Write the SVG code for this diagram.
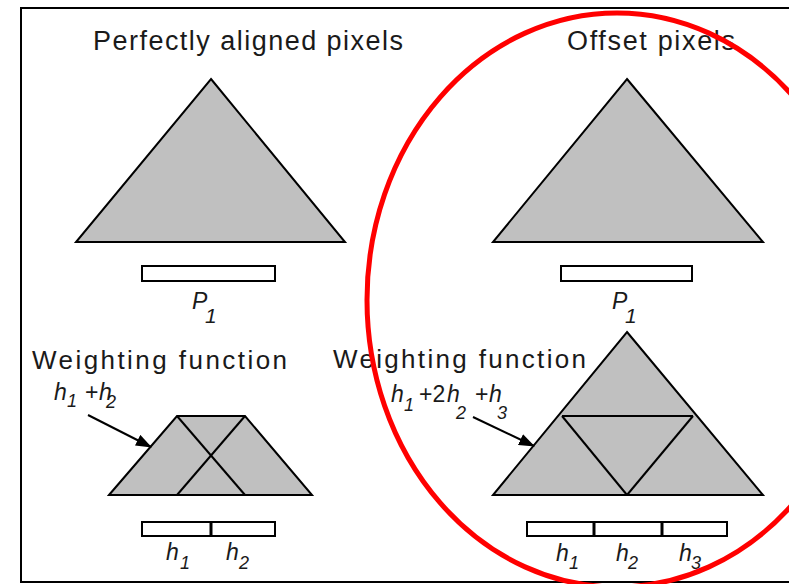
<svg xmlns="http://www.w3.org/2000/svg" width="789" height="584" viewBox="0 0 789 584">
<style>
.tri{fill:#c0c0c0;stroke:#000;stroke-width:2;stroke-linejoin:miter}
.ln{fill:none;stroke:#000;stroke-width:2}
.bar{fill:#fff;stroke:#000;stroke-width:2}
.div{stroke:#000;stroke-width:3}
.t{font-family:"Liberation Sans",Arial,sans-serif;fill:#1a1a1a}
.ttl{font-size:27px}
.it{font-style:italic}
.m{font-size:23px}
.s{font-size:18px}
.arr{fill:none;stroke:#000;stroke-width:2;marker-end:url(#ah)}
</style>
<defs>
<marker id="ah" markerUnits="userSpaceOnUse" markerWidth="16" markerHeight="12" refX="15" refY="6" orient="auto">
<path d="M0,0 L16,6 L0,12 Z" fill="#000"/>
</marker>
</defs>
<rect x="21" y="8" width="800" height="574" fill="#fff" stroke="#000" stroke-width="2"/>

<g id="left-top">
<text class="t ttl" x="93" y="50" textLength="310" lengthAdjust="spacing">Perfectly aligned pixels</text>
<polygon class="tri" points="211,79 345,242 76,242"/>
<rect class="bar" x="142" y="266" width="133" height="15"/>
<text class="t it" x="192" y="309" font-size="23">P</text>
<text class="t it" x="205" y="323" font-size="21">1</text>
</g>

<g id="right-top">
<text class="t ttl" x="567" y="50" textLength="168" lengthAdjust="spacing">Offset pixels</text>
<polygon class="tri" points="627,79 763,242 493,242"/>
<rect class="bar" x="561" y="266" width="131" height="15"/>
<text class="t it" x="612" y="309" font-size="23">P</text>
<text class="t it" x="625" y="323" font-size="21">1</text>
</g>

<g id="left-bottom">
<text class="t" x="32" y="369" font-size="26" textLength="255" lengthAdjust="spacing">Weighting function</text>
<polygon class="tri" points="109,495 177,416 245,416 312,495"/>
<line class="ln" x1="177" y1="416" x2="245" y2="495"/>
<line class="ln" x1="245" y1="416" x2="177" y2="495"/>
<text class="t it m" x="54" y="400">h</text>
<text class="t it s" x="67" y="407">1</text>
<text class="t m" x="85" y="400">+</text>
<text class="t it m" x="99" y="400">h</text>
<text class="t it s" x="106" y="408">2</text>
<rect class="bar" x="142" y="522" width="133" height="14"/>
<line class="div" x1="211" y1="522" x2="211" y2="536"/>
<text class="t it m" x="166" y="560">h</text>
<text class="t it s" x="180" y="569">1</text>
<text class="t it m" x="226" y="560">h</text>
<text class="t it s" x="239" y="569">2</text>
</g>

<g id="right-bottom">
<text class="t" x="333" y="368" font-size="26" textLength="253" lengthAdjust="spacing">Weighting function</text>
<polygon class="tri" points="627,332 763,495 493,495"/>
<line class="ln" x1="562" y1="416" x2="693" y2="416"/>
<line class="ln" x1="562" y1="416" x2="627" y2="495"/>
<line class="ln" x1="693" y1="416" x2="627" y2="495"/>
<text class="t it m" x="391" y="402">h</text>
<text class="t it s" x="404" y="411">1</text>
<text class="t m" x="419" y="402">+2</text>
<text class="t it m" x="447" y="402">h</text>
<text class="t it s" x="456" y="419">2</text>
<text class="t m" x="475" y="402">+</text>
<text class="t it m" x="489" y="402">h</text>
<text class="t it s" x="497" y="419">3</text>
<rect class="bar" x="527" y="522" width="200" height="14"/>
<line class="div" x1="594" y1="522" x2="594" y2="536"/>
<line class="div" x1="662" y1="522" x2="662" y2="536"/>
<text class="t it m" x="556" y="561">h</text>
<text class="t it s" x="569" y="569">1</text>
<text class="t it m" x="616" y="561">h</text>
<text class="t it s" x="628" y="569">2</text>
<text class="t it m" x="679" y="561">h</text>
<text class="t it s" x="691" y="569">3</text>
</g>

<g id="connectors">
<line class="arr" x1="88" y1="415" x2="151" y2="447"/>
<line class="arr" x1="473" y1="417" x2="534" y2="446"/>
</g>

<ellipse id="highlight" cx="617" cy="300" rx="250" ry="287" fill="none" stroke="#f00" stroke-width="5"/>
</svg>
